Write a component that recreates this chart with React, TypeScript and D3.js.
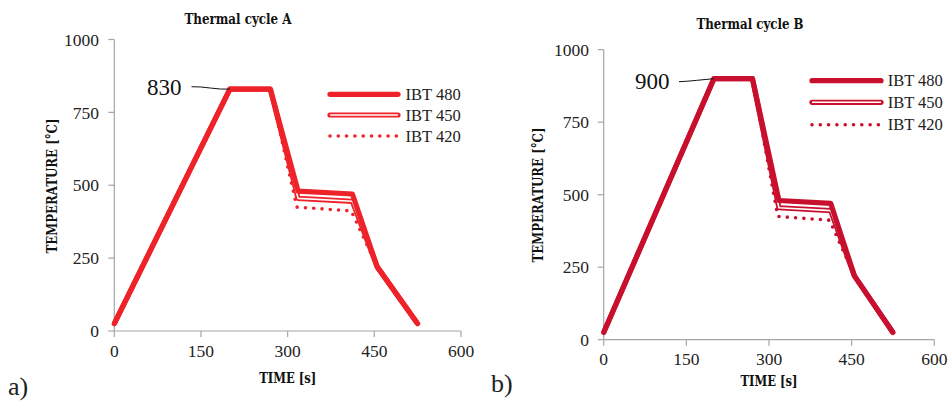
import React from "react";
import * as d3 from "d3";

const times = [0, 200, 270, 318, 412, 455, 525];
const times420 = [0, 200, 270, 316, 410, 455, 525];
const cycleA_IBT480 = [25, 830, 830, 480, 470, 220, 25];
const cycleA_IBT450 = [25, 830, 830, 455, 445, 220, 25];
const cycleA_IBT420 = [25, 830, 830, 425, 412, 220, 25];
const cycleB_IBT480 = [25, 900, 900, 480, 470, 220, 25];
const cycleB_IBT450 = [25, 900, 900, 455, 445, 220, 25];
const cycleB_IBT420 = [25, 900, 900, 425, 412, 220, 25];
const xTicks = [0, 150, 300, 450, 600];
const yTicks = [0, 250, 500, 750, 1000];
const legendLabels = ["IBT 480", "IBT 450", "IBT 420"];

type Layout = {
  title: string;
  letter: string;
  color: string;
  peak: number;
  s480: number[];
  s450: number[];
  s420: number[];
  x0: number; x1: number; y0: number; y1: number;
  titleX: number; titleY: number;
  yTitleX: number; yTitleY: number;
  xTitleY: number;
  letterX: number; letterY: number;
  annX: number; annY: number;
  leadFrom: [number, number];
  legX0: number; legX1: number; legYs: number[]; legTextX: number;
  xLabelY: number; yLabelRight: number;
};

const serif = "'Liberation Serif', 'DejaVu Serif', serif";
const slab = "'DejaVu Serif', serif";

function Chart({ L }: { L: Layout }) {
  const x = d3.scaleLinear().domain([0, 600]).range([L.x0, L.x1]);
  const y = d3.scaleLinear().domain([0, 1000]).range([L.y0, L.y1]);
  const line = d3.line<[number, number]>().x((d) => x(d[0])).y((d) => y(d[1]));
  const p480 = line(times.map((t, i) => [t, L.s480[i]] as [number, number])) || "";
  const p450 = line(times.map((t, i) => [t, L.s450[i]] as [number, number])) || "";
  const p420 = line(times420.map((t, i) => [t, L.s420[i]] as [number, number])) || "";
  const peakX = x(200);
  const peakY = y(L.peak);
  const axisColor = "#a6a6a6";
  const wMain = 5.2;
  return (
    <g>
      <text x={L.titleX} y={L.titleY} textAnchor="middle" fontFamily={slab} fontWeight="bold" fontSize={14} textLength={107} lengthAdjust="spacingAndGlyphs" fill="#111">{L.title}</text>
      {/* axes */}
      <line x1={L.x0} x2={L.x0} y1={L.y0} y2={L.y1} stroke={axisColor} strokeWidth={1.2} />
      <line x1={L.x0} x2={L.x1} y1={L.y0} y2={L.y0} stroke={axisColor} strokeWidth={1.2} />
      {yTicks.map((v) => (
        <g key={"y" + v}>
          <line x1={L.x0 - 6} x2={L.x0} y1={y(v)} y2={y(v)} stroke={axisColor} strokeWidth={1.2} />
          <text x={L.yLabelRight} y={y(v)} dy="0.35em" textAnchor="end" fontFamily={serif} fontSize={17.5} fill="#222">{v}</text>
        </g>
      ))}
      {xTicks.map((v) => (
        <g key={"x" + v}>
          <line x1={x(v)} x2={x(v)} y1={L.y0} y2={L.y0 + 6} stroke={axisColor} strokeWidth={1.2} />
          <text x={x(v)} y={L.xLabelY} textAnchor="middle" fontFamily={serif} fontSize={17.5} fill="#222">{v}</text>
        </g>
      ))}
      <text transform={`translate(${L.yTitleX},${L.yTitleY}) rotate(-90)`} textAnchor="middle" dy="0.35em" fontFamily={slab} fontWeight="bold" fontSize={14} textLength={135} lengthAdjust="spacingAndGlyphs" fill="#111">TEMPERATURE [°C]</text>
      <text x={(L.x0 + L.x1) / 2} y={L.xTitleY} textAnchor="middle" dy="0.35em" fontFamily={slab} fontWeight="bold" fontSize={14} textLength={57} lengthAdjust="spacingAndGlyphs" fill="#111">TIME [s]</text>
      <text x={L.letterX} y={L.letterY} dy="0.35em" fontFamily={serif} fontSize={26} fill="#222">{L.letter}</text>
      {/* series */}
      <path d={p420} fill="none" stroke={L.color} strokeWidth={3.6} strokeDasharray="0 8.3" strokeLinecap="round" />
      <path d={p450} fill="none" stroke={L.color} strokeWidth={wMain} strokeLinejoin="round" />
      <path d={p450} fill="none" stroke="#fff" strokeWidth={1.6} strokeLinejoin="round" />
      <path d={p480} fill="none" stroke={L.color} strokeWidth={wMain} strokeLinejoin="round" strokeLinecap="round" />
      {/* annotation */}
      <text x={L.annX} y={L.annY} dy="0.35em" fontFamily={serif} fontSize={23} fill="#111">{L.peak}</text>
      <path d={`M${L.leadFrom[0]},${L.leadFrom[1]} C${L.leadFrom[0] + 12},${L.leadFrom[1] - 0.5} ${peakX - 12},${peakY + 1} ${peakX},${peakY}`} fill="none" stroke="#111" strokeWidth={1} />
      {/* legend */}
      {legendLabels.map((lab, i) => (
        <g key={lab}>
          {i === 0 && <line x1={L.legX0} x2={L.legX1} y1={L.legYs[i]} y2={L.legYs[i]} stroke={L.color} strokeWidth={wMain} strokeLinecap="round" />}
          {i === 1 && (
            <g>
              <line x1={L.legX0} x2={L.legX1} y1={L.legYs[i]} y2={L.legYs[i]} stroke={L.color} strokeWidth={wMain} strokeLinecap="round" />
              <line x1={L.legX0} x2={L.legX1} y1={L.legYs[i]} y2={L.legYs[i]} stroke="#fff" strokeWidth={1.6} />
            </g>
          )}
          {i === 2 && <line x1={L.legX0} x2={L.legX1} y1={L.legYs[i]} y2={L.legYs[i]} stroke={L.color} strokeWidth={3.6} strokeDasharray="0 8.3" strokeLinecap="round" />}
          <text x={L.legTextX} y={L.legYs[i]} dy="0.35em" fontFamily={serif} fontSize={16.5} fill="#222">{lab}</text>
        </g>
      ))}
    </g>
  );
}

const layoutA: Layout = {
  title: "Thermal cycle A", letter: "a)", color: "#ee2229", peak: 830,
  s480: cycleA_IBT480, s450: cycleA_IBT450, s420: cycleA_IBT420,
  x0: 114.3, x1: 461, y0: 331, y1: 39.5,
  titleX: 238, titleY: 24,
  yTitleX: 52, yTitleY: 186, xTitleY: 378,
  letterX: 8, letterY: 386,
  annX: 147, annY: 87,
  leadFrom: [191.5, 86.7],
  legX0: 330, legX1: 398, legYs: [94.3, 115, 136], legTextX: 405.5,
  xLabelY: 357, yLabelRight: 99,
};

const layoutB: Layout = {
  title: "Thermal cycle B", letter: "b)", color: "#c8102e", peak: 900,
  s480: cycleB_IBT480, s450: cycleB_IBT450, s420: cycleB_IBT420,
  x0: 603.7, x1: 934.3, y0: 339.7, y1: 49.7,
  titleX: 750, titleY: 29,
  yTitleX: 538.5, yTitleY: 195, xTitleY: 381.5,
  letterX: 491, letterY: 383,
  annX: 635, annY: 81,
  leadFrom: [679, 81.7],
  legX0: 812, legX1: 881, legYs: [80.7, 102.3, 124.7], legTextX: 887.7,
  xLabelY: 365, yLabelRight: 589,
};

export default function App() {
  return (
    <svg width={949} height={402} style={{ position: "absolute", left: 0, top: 0, background: "#fff" }}>
      <rect width={949} height={402} fill="#fff" />
      <Chart L={layoutA} />
      <Chart L={layoutB} />
    </svg>
  );
}
